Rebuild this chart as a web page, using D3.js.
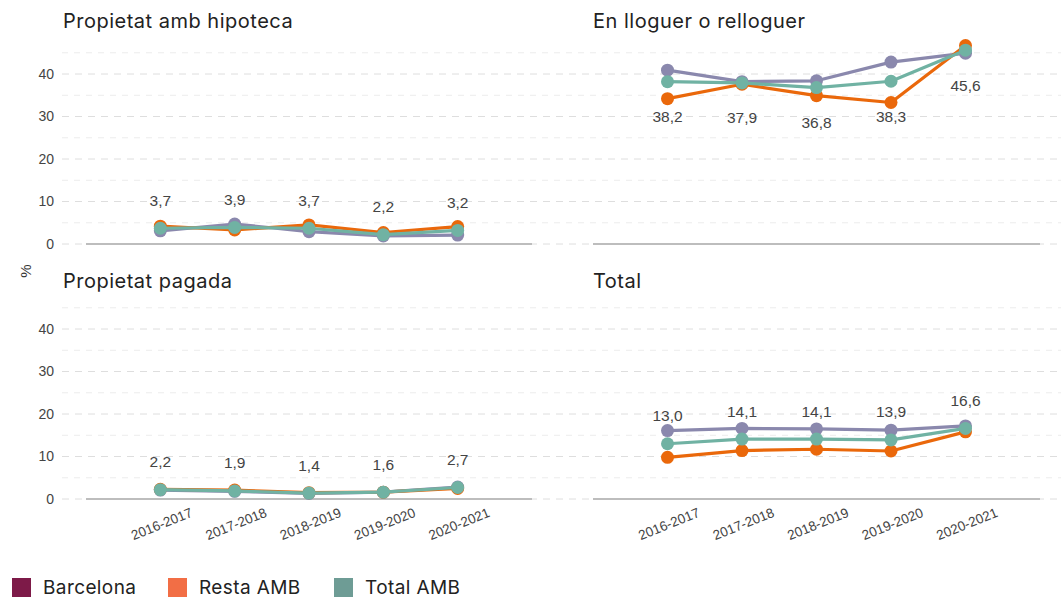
<!DOCTYPE html>
<html>
<head>
<meta charset="utf-8">
<script src="https://cdn.jsdelivr.net/npm/d3@7"></script>
<style>
  body { margin: 0; background: #fff; }
  svg { display: block; }
</style>
</head>
<body>
<svg id="chart" width="1061" height="598"></svg>
<script>
// ---------- DATA ----------
const categories = ["2016-2017", "2017-2018", "2018-2019", "2019-2020", "2020-2021"];
const panelTitles = ["Propietat amb hipoteca", "En lloguer o relloguer", "Propietat pagada", "Total"];
const seriesNames = ["Barcelona", "Resta AMB", "Total AMB"];
const yTicks = [0, 10, 20, 30, 40];
const yMinorTicks = [5, 15, 25, 35, 45];

const hipotecaBarcelona = [3.1, 4.7, 2.9, 1.9, 2.1];
const hipotecaResta     = [4.2, 3.3, 4.5, 2.7, 4.1];
const hipotecaTotal     = [3.7, 3.9, 3.7, 2.2, 3.2];

const lloguerBarcelona  = [40.9, 38.2, 38.4, 42.8, 44.9];
const lloguerResta      = [34.2, 37.6, 34.9, 33.3, 46.7];
const lloguerTotal      = [38.2, 37.9, 36.8, 38.3, 45.6];

const pagadaBarcelona   = [2.1, 1.8, 1.3, 1.6, 2.8];
const pagadaResta       = [2.3, 2.1, 1.5, 1.6, 2.5];
const pagadaTotal       = [2.2, 1.9, 1.4, 1.6, 2.7];

const totalBarcelona    = [16.1, 16.6, 16.5, 16.2, 17.2];
const totalResta        = [9.8, 11.4, 11.7, 11.3, 15.8];
const totalTotal        = [13.0, 14.1, 14.1, 13.9, 16.6];

const panelSeries = [
  [hipotecaBarcelona, hipotecaResta, hipotecaTotal],
  [lloguerBarcelona, lloguerResta, lloguerTotal],
  [pagadaBarcelona, pagadaResta, pagadaTotal],
  [totalBarcelona, totalResta, totalTotal]
];

// ---------- STYLE ----------
const lineColors = ["#8a88ad", "#ea680b", "#70b2a3"];
const legendColors = ["#7d1a48", "#f26e45", "#6e9c95"];
const labelPlacement = ["above", "below", "above", "above"];

const svg = d3.select("#chart");
const fmt = v => d3.format(".1f")(v).replace(".", ",");

const colX = [[86, 532], [593, 1040]];
const rowY = [[244, 52.75], [499, 307.75]];
const titleY = [28, 288];
const titleX = [63, 593];

// gridlines (full width)
rowY.forEach(r => {
  const y = d3.scaleLinear().domain([0, 45]).range(r);
  const g = svg.append("g");
  g.selectAll("line.minor").data(yMinorTicks).join("line")
    .attr("x1", 62).attr("x2", 1061)
    .attr("y1", d => y(d)).attr("y2", d => y(d))
    .attr("stroke", "#ececec").attr("stroke-width", 1)
    .attr("stroke-dasharray", "6,6");
  g.selectAll("line.major").data(yTicks).join("line")
    .attr("x1", 62).attr("x2", 1061)
    .attr("y1", d => y(d)).attr("y2", d => y(d))
    .attr("stroke", "#dedede").attr("stroke-width", 1)
    .attr("stroke-dasharray", "7,6");
});

panelTitles.forEach((title, i) => {
  const col = i % 2, row = Math.floor(i / 2);
  const x = d3.scalePoint().domain(categories).range(colX[col]).padding(1);
  const y = d3.scaleLinear().domain([0, 45]).range(rowY[row]);
  const g = svg.append("g");

  // baseline
  g.append("line")
    .attr("x1", colX[col][0]).attr("x2", colX[col][1])
    .attr("y1", y(0)).attr("y2", y(0))
    .attr("stroke", "#bdbdbd").attr("stroke-width", 2);

  // title
  g.append("text")
    .attr("x", titleX[col])
    .attr("y", titleY[row])
    .attr("font-family", "Inter, 'Noto Sans', sans-serif")
    .attr("font-size", 20)
    .attr("letter-spacing", 0.5)
    .attr("fill", "#222")
    .text(title);

  // y axis labels (left column only)
  if (col === 0) {
    const ax = d3.axisLeft(y).tickValues(yTicks).tickSize(0).tickPadding(0);
    const ag = g.append("g").attr("transform", "translate(54,0)").call(ax);
    ag.select(".domain").remove();
    ag.selectAll("text")
      .attr("font-family", "'Liberation Sans', Arial, sans-serif")
      .attr("font-size", 14).attr("fill", "#444");
  }

  // x axis labels (bottom row only)
  if (row === 1) {
    const xa = d3.axisBottom(x).tickSize(0).tickPadding(0);
    const xg = g.append("g").attr("transform", `translate(0,${y(0)})`).call(xa);
    xg.select(".domain").remove();
    xg.selectAll("text")
      .attr("font-family", "'Liberation Sans', Arial, sans-serif")
      .attr("font-size", 13.5).attr("fill", "#444")
      .attr("text-anchor", "middle")
      .attr("dy", null).attr("y", null)
      .attr("dominant-baseline", "central")
      .attr("transform", "translate(1,25) rotate(-22)");
  }

  // lines and points
  panelSeries[i].forEach((vals, s) => {
    const line = d3.line().x((d, k) => x(categories[k])).y(d => y(d));
    g.append("path").datum(vals)
      .attr("d", line).attr("fill", "none")
      .attr("stroke", lineColors[s]).attr("stroke-width", 3.2)
      .attr("stroke-linejoin", "round");
    g.selectAll(null).data(vals).join("circle")
      .attr("cx", (d, k) => x(categories[k]))
      .attr("cy", d => y(d))
      .attr("r", 6.5)
      .attr("fill", lineColors[s]);
  });

  // data labels (Total AMB)
  const lab = panelSeries[i][2];
  const off = labelPlacement[i] === "above" ? -28 : 35;
  g.selectAll(null).data(lab).join("text")
    .attr("x", (d, k) => x(categories[k]))
    .attr("y", d => y(d) + off)
    .attr("text-anchor", "middle")
    .attr("dominant-baseline", "central")
    .attr("font-family", "'Liberation Sans', Arial, sans-serif")
    .attr("font-size", 15.5).attr("fill", "#444")
    .text(d => fmt(d));
});

// y axis title
svg.append("text")
  .attr("transform", "translate(25,271) rotate(-90)")
  .attr("text-anchor", "middle")
  .attr("dominant-baseline", "central")
  .attr("font-family", "'Liberation Sans', Arial, sans-serif")
  .attr("font-size", 15).attr("fill", "#333")
  .text("%");

// legend
const legendX = [12, 168, 334];
const lg = svg.append("g");
seriesNames.forEach((name, s) => {
  lg.append("rect")
    .attr("x", legendX[s]).attr("y", 578)
    .attr("width", 19).attr("height", 19)
    .attr("fill", legendColors[s]);
  lg.append("text")
    .attr("x", legendX[s] + 31).attr("y", 594)
    .attr("font-family", "Inter, 'Noto Sans', sans-serif")
    .attr("font-size", 19)
    .attr("letter-spacing", 0.4)
    .attr("fill", "#222")
    .text(name);
});
</script>
</body>
</html>
